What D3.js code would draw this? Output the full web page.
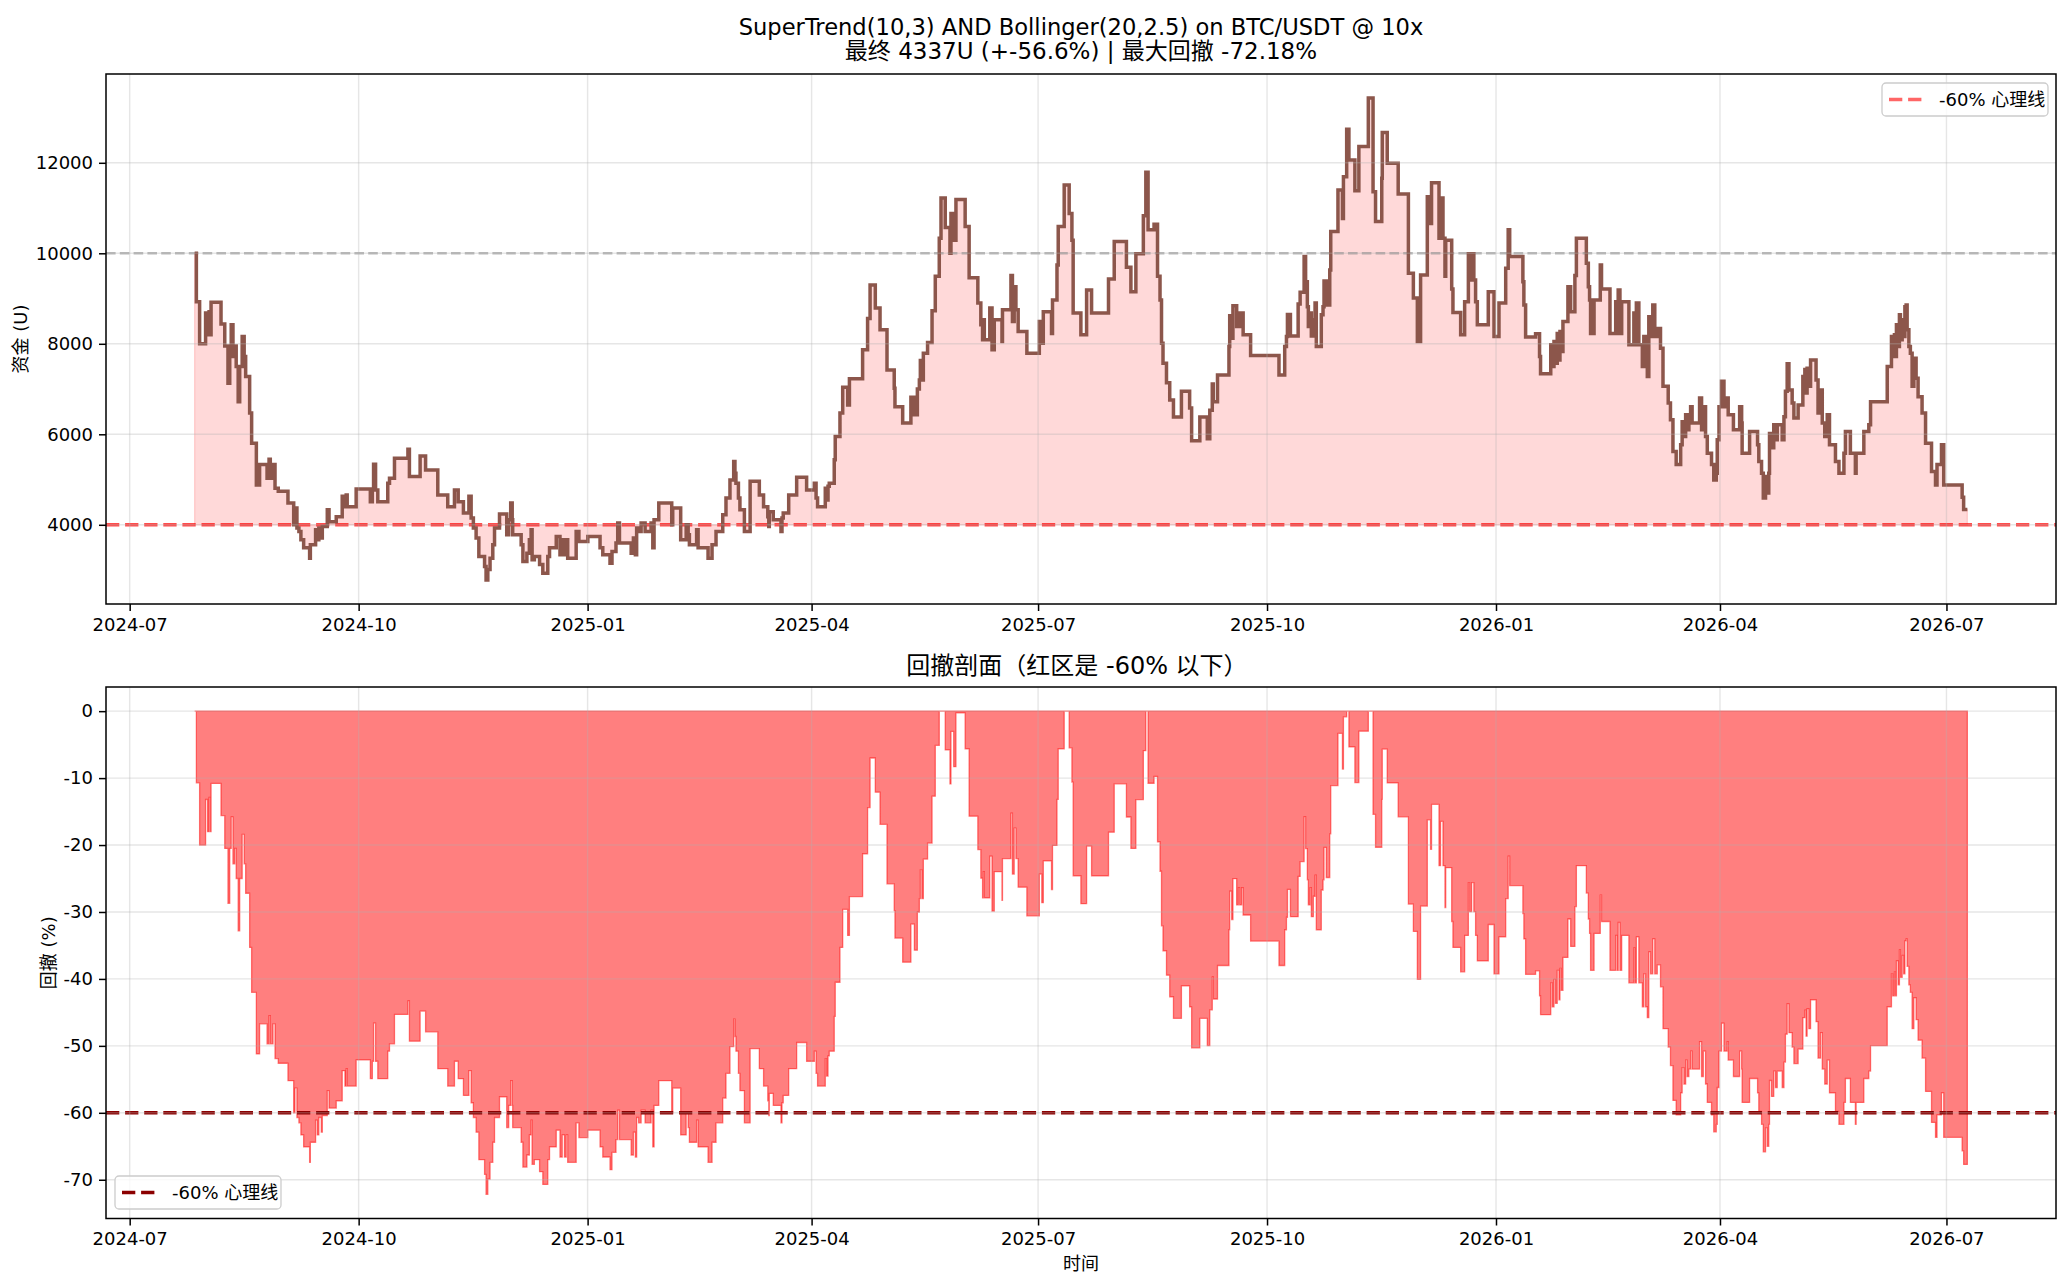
<!DOCTYPE html>
<html><head><meta charset="utf-8">
<script src="https://cdn.jsdelivr.net/npm/d3@7"></script>
<style>
html,body{margin:0;padding:0;background:#fff;}
svg text{font-family:"DejaVu Sans","Noto Sans CJK SC",sans-serif;fill:#000;}
</style></head><body>
<svg id="chart" width="2070" height="1287"></svg>
<script>
// ---------------- DATA ----------------
const startDate = "2024-07-01";           // day 0 of dayOffsets
const initialCapital = 10000;
const warnLevel = 4000;                    // -60% 心理线
const warnPct = -60;
const titleLines = ["SuperTrend(10,3) AND Bollinger(20,2.5) on BTC/USDT @ 10x",
                    "最终 4337U (+-56.6%) | 最大回撤 -72.18%"];
const ddTitle = "回撤剖面（红区是 -60% 以下）";
const legendLabel = "-60% 心理线";
const yLabelTop = "资金 (U)";
const yLabelBottom = "回撤 (%)";
const xLabel = "时间";
const equityTicks = [4000, 6000, 8000, 10000, 12000];
const ddTicks = [0, -10, -20, -30, -40, -50, -60, -70];

// days since startDate at which the equity steps to a new value
const dayOffsets = [
26.1,26.8,28.1,30.5,31.3,31.9,32.4,32.7,36.7,38.2,39.5,40.2,40.8,41.5,42.2,42.8,43.6,44.2,45.2,46.0,
46.6,48.2,49.0,50.9,52.2,55.2,56.0,56.5,57.6,58.4,59.7,63.6,65.9,66.4,67.2,68.0,68.8,69.9,72.3,72.6,
74.7,75.4,76.0,77.0,77.4,79.4,80.1,83.0,85.4,86.5,87.0,87.4,91.0,96.7,97.5,98.0,98.8,99.7,103.7,104.4,
106.4,111.8,112.4,116.7,118.9,123.8,127.8,130.5,132.0,134.1,136.3,137.2,138.1,139.2,140.3,142.6,143.2,143.9,144.8,145.9,
146.6,148.6,151.5,152.3,153.1,153.7,153.9,157.3,158.0,159.6,160.6,161.3,161.7,162.6,164.7,166.0,168.0,168.7,171.4,172.9,
173.8,174.7,175.4,176.0,179.4,180.5,184.1,189.0,190.1,193.0,193.8,195.4,196.1,196.8,201.5,202.4,203.2,203.7,
204.5,205.5,207.1,209.5,210.2,210.7,212.6,217.8,218.2,221.4,223.6,224.4,224.9,227.8,228.4,232.4,234.0,235.6,238.3,239.6,
241.2,242.7,243.2,243.6,244.6,245.2,247.0,249.3,253.0,254.7,256.4,256.8,257.0,258.6,261.7,262.1,262.6,264.8,268.0,272.0,
275.1,275.8,276.4,279.5,280.0,280.6,281.1,283.1,283.5,285.4,286.5,288.5,289.2,294.5,296.5,297.5,299.6,301.5,304.3,307.2,
307.5,310.6,313.9,315.3,316.5,317.3,317.7,318.3,318.9,320.6,322.4,323.7,325.3,326.0,327.7,329.6,330.0,331.1,332.0,335.7,
337.3,340.8,342.0,342.7,343.0,343.4,345.6,346.5,347.4,350.5,350.7,354.1,354.7,355.4,356.1,357.0,360.5,365.5,366.5,367.1,
370.4,370.8,372.6,373.1,375.5,377.5,378.6,379.1,382.2,384.5,
386.5,393.3,395.6,400.5,402.3,404.3,407.3,408.3,409.2,411.6,413.0,414.0,414.6,415.2,416.6,417.9,419.4,422.6,425.9,426.7,
430.0,433.0,434.0,435.0,435.4,437.1,441.7,442.0,442.8,443.3,444.8,445.5,446.0,446.8,447.4,450.4,461.8,464.1,464.8,465.2,
466.4,469.5,470.3,471.9,472.5,473.2,473.6,474.3,474.8,475.6,476.3,476.8,478.8,479.5,479.9,480.8,482.2,482.6,485.5,487.3,
487.7,489.0,489.9,492.3,493.9,497.7,499.6,500.6,503.1,503.3,505.3,509.7,513.8,515.8,517.4,518.7,521.4,522.7,523.1,526.1,
526.7,527.7,528.5,528.8,531.2,531.7,534.8,536.4,537.9,538.4,539.2,540.1,540.8,541.5,545.9,548.2,550.2,552.9,553.9,554.5,
559.8,560.2,560.9,564.9,
566.5,566.9,571.0,571.6,572.3,572.9,573.6,574.3,574.7,575.2,575.9,577.9,579.0,580.7,581.3,585.3,586.1,586.6,587.0,588.4,
590.9,591.4,594.8,597.1,597.7,598.1,598.8,599.5,602.4,604.4,604.8,605.4,606.4,607.8,608.4,609.1,609.8,610.4,611.1,612.0,
612.8,613.8,615.1,616.1,618.2,619.1,620.1,621.4,623.2,623.8,624.5,625.2,625.8,626.5,627.2,627.8,630.8,631.6,632.3,633.2,
633.9,635.6,636.5,637.5,637.9,638.6,639.6,640.6,641.9,642.3,644.4,646.9,647.7,647.9,650.9,654.1,654.6,655.7,656.4,657.3,
658.0,658.6,658.9,659.7,660.6,661.3,662.0,664.0,664.7,665.3,666.0,666.7,668.0,668.7,670.4,672.3,673.1,673.6,674.0,674.7,
675.4,677.6,678.4,679.4,680.1,681.1,682.1,683.0,685.4,686.8,688.8,689.4,691.4,693.4,693.7,696.8,698.8,699.5,706.2,707.9,
708.4,709.1,709.5,709.9,710.6,711.1,711.5,712.2,712.8,713.3,713.8,714.2,714.9,715.5,716.2,716.9,717.8,718.6,720.2,721.6,
724.0,725.6,726.2,728.0,728.9,736.3,736.9,738.4
];

// equity (U) after each step
const equity = [
10000,8930,8000,8680,8200,8710,8200,8920,8440,7950,7130,7950,8420,7720,7950,7500,6720,7500,8160,7720,
7280,6470,5800,4880,5330,5030,5450,5030,5330,4810,4740,4480,4000,4370,3930,3850,3670,3490,3260,3560,
3890,3670,3930,3710,3960,4330,4070,4180,4630,4400,4660,4400,4790,4510,4770,5340,4770,4510,4920,5030,
5470,5670,5070,5520,5210,4660,4400,4770,4510,4260,4630,4150,3930,3710,3300,3080,2782,3010,3260,3560,
3930,4240,3780,4110,4480,4110,3780,3560,3190,3370,3670,3890,3230,3300,3120,2930,3300,3490,3740,3340,
3670,3340,3670,3260,3850,3630,3740,3490,3340,3150,3410,3600,4040,3600,3370,3710,3340,3930,
3850,4040,3850,4040,3490,4110,4480,4000,4370,3670,4000,3780,3560,3890,3490,3260,3560,3850,4220,4590,
4990,5400,5140,4920,4590,4330,3850,4960,4660,4400,4180,3960,4290,4110,3850,4150,4260,4660,5050,4770,
4920,4590,4400,4810,4550,4850,4920,5440,5950,6470,7040,6650,7230,7870,8560,9300,8790,8310,7420,7020,
6610,6250,6820,6430,7000,7200,7630,7200,7790,8030,8730,9490,10330,11220,10570,10000,10880,10290,11190,10590,
9460,8900,8420,8090,8530,8090,8790,7870,8530,8050,8750,9510,8490,9260,8750,8270,7790,8490,8010,8710,
8230,8970,9740,10590,11510,10880,10290,8680,8200,9190,
8680,9430,10260,9690,9150,9990,10830,11790,10520,10640,9490,8970,8010,7570,7140,6760,6380,6950,6580,5860,
6380,5900,6530,7110,6720,7310,7940,8620,8120,8840,8380,8680,8380,8680,8200,7740,7310,7940,8160,8650,
8170,8880,9140,9930,9370,8820,8380,8680,8170,8530,8900,7940,8640,8820,9390,8860,9630,10480,11400,10770,
11690,12740,12060,11380,12360,13430,11360,10700,11660,12670,11990,11310,9560,9010,8050,9520,11250,10660,11560,10330,
11220,10330,9490,10290,9210,8690,8200,8930,9990,9410,9990,9410,8930,8420,9150,8160,8900,9670,10520,9930,
9370,8860,8150,8220,
7720,7340,7980,7500,8050,7570,8230,7640,8270,7830,8490,9260,8710,9510,10330,9780,9260,8970,8230,8970,
9740,9210,8230,8930,8230,9190,8230,8930,7980,8680,7980,8900,7980,7500,8160,7500,7280,8600,8160,8860,
8160,8340,7900,7060,6690,6320,5620,5330,5770,6280,5950,6430,6100,6250,6610,6250,6800,6100,6610,5950,
5580,5330,4990,5140,5880,6610,7170,6610,6800,6430,6100,6610,6250,5580,6060,5770,5400,5140,4590,5070,
4700,5140,6020,5700,6210,5880,6210,5880,6390,6950,7560,6980,6690,6360,6650,7280,7430,6910,7460,7060,
7640,7200,6470,6980,6250,5950,6430,5770,5400,5140,5580,6060,5580,5140,5580,6060,6210,6720,7500,8160,
7720,8200,7720,8420,7940,8640,8090,8530,8160,8820,8860,8310,7940,7790,7060,7680,7240,6830,6470,5800,
5180,4880,5330,5770,4880,4610,4337,4337
];

// ---------------- CHART ----------------
const svg = d3.select("#chart");
const L = 106, R = 2056;
const topBox = {top: 74, bottom: 604};
const botBox = {top: 687, bottom: 1218.5};
const TICK_FS = 18, LABEL_FS = 18, LEG_FS = 18;

const t0 = Date.parse(startDate + "T00:00:00Z");
const dates = dayOffsets.map(d => new Date(t0 + d * 864e5));
const eqData = dates.map((d, i) => ({date: d, value: equity[i]}));
let runPeak = -Infinity;
const ddData = eqData.map(p => { runPeak = Math.max(runPeak, p.value); return {date: p.date, value: (p.value / runPeak - 1) * 100}; });

const tMin = d3.min(dates), tMax = d3.max(dates), tPad = (tMax - tMin) * 0.05;
const x = d3.scaleUtc().domain([new Date(+tMin - tPad), new Date(+tMax + tPad)]).range([L, R]);
const eMin = d3.min(equity), eMax = d3.max(equity), ePad = (eMax - eMin) * 0.05;
const yTop = d3.scaleLinear().domain([eMin - ePad, eMax + ePad]).range([topBox.bottom, topBox.top]);
const dMin = d3.min(ddData, d => d.value), dMax = d3.max(ddData, d => d.value), dPad = (dMax - dMin) * 0.05;
const yBot = d3.scaleLinear().domain([dMin - dPad, dMax + dPad]).range([botBox.bottom, botBox.top]);
const xTicks = d3.utcMonth.every(3).range(x.domain()[0], x.domain()[1]);

const defs = svg.append("defs");
[["clipTop", topBox], ["clipBot", botBox]].forEach(([id, b]) => {
  defs.append("clipPath").attr("id", id).append("rect")
    .attr("x", L).attr("y", b.top).attr("width", R - L).attr("height", b.bottom - b.top);
});

function grid(g, yScale, yTicks, box) {
  const gg = g.append("g").attr("stroke", "#b0b0b0").attr("stroke-opacity", 0.32).attr("stroke-width", 1.4);
  xTicks.forEach(t => gg.append("line").attr("x1", x(t)).attr("x2", x(t)).attr("y1", box.top).attr("y2", box.bottom));
  yTicks.forEach(v => gg.append("line").attr("x1", L).attr("x2", R).attr("y1", yScale(v)).attr("y2", yScale(v)));
}
function axes(yScale, yTicks, box) {
  const ax = svg.append("g").attr("transform", `translate(0,${box.bottom})`)
    .call(d3.axisBottom(x).tickValues(xTicks).tickFormat(d3.utcFormat("%Y-%m")).tickSize(7).tickPadding(7).tickSizeOuter(0));
  const ay = svg.append("g").attr("transform", `translate(${L},0)`)
    .call(d3.axisLeft(yScale).tickValues(yTicks).tickFormat(d => String(d)).tickSize(7).tickPadding(6).tickSizeOuter(0));
  [ax, ay].forEach(a => {
    a.select(".domain").remove();
    a.selectAll(".tick line").attr("stroke", "#000").attr("stroke-width", 1.5);
    a.selectAll(".tick text").attr("font-size", TICK_FS).style("font-family", '"DejaVu Sans","Noto Sans CJK SC",sans-serif').attr("fill", "#000");
  });
  svg.append("rect").attr("x", L).attr("y", box.top).attr("width", R - L).attr("height", box.bottom - box.top)
    .attr("fill", "none").attr("stroke", "#000").attr("stroke-width", 1.5);
}
function legend(bx, by, color, opacity) {
  const g = svg.append("g");
  g.append("rect").attr("x", bx).attr("y", by).attr("width", 166).attr("height", 33).attr("rx", 4)
    .attr("fill", "#fff").attr("fill-opacity", 0.8).attr("stroke", "#cccccc").attr("stroke-width", 1.3);
  g.append("line").attr("x1", bx + 7).attr("x2", bx + 41).attr("y1", by + 16.5).attr("y2", by + 16.5)
    .attr("stroke", color).attr("stroke-opacity", opacity).attr("stroke-width", 3.6).attr("stroke-dasharray", "13.3,5.8");
  g.append("text").attr("x", bx + 57).attr("y", by + 16.5).attr("dy", "0.36em").attr("font-size", LEG_FS).text(legendLabel);
}

// ---- top panel ----
const gTop = svg.append("g");
const pTop = gTop.append("g").attr("clip-path", "url(#clipTop)");
pTop.append("path").datum(eqData)
  .attr("d", d3.area().curve(d3.curveStepAfter).x(d => x(d.date)).y0(yTop(warnLevel)).y1(d => yTop(d.value)))
  .attr("fill", "red").attr("fill-opacity", 0.15).attr("stroke", "red").attr("stroke-opacity", 0.15).attr("stroke-width", 1.3);
grid(gTop, yTop, equityTicks, topBox);
pTop.append("line").attr("x1", L).attr("x2", R).attr("y1", yTop(initialCapital)).attr("y2", yTop(initialCapital))
  .attr("stroke", "gray").attr("stroke-opacity", 0.55).attr("stroke-width", 2.6).attr("stroke-dasharray", "9.6,4.2");
pTop.append("line").attr("x1", L).attr("x2", R).attr("y1", yTop(warnLevel)).attr("y2", yTop(warnLevel))
  .attr("stroke", "red").attr("stroke-opacity", 0.7).attr("stroke-width", 3.6).attr("stroke-dasharray", "13.3,5.8");
pTop.append("path").datum(eqData)
  .attr("d", d3.line().curve(d3.curveStepAfter).x(d => x(d.date)).y(d => yTop(d.value)))
  .attr("fill", "none").attr("stroke", "#8c564b").attr("stroke-width", 3.5).attr("stroke-linejoin", "miter");
axes(yTop, equityTicks, topBox);
legend(1882, 83, "red", 0.6);

// ---- bottom panel ----
const gBot = svg.append("g");
const pBot = gBot.append("g").attr("clip-path", "url(#clipBot)");
pBot.append("path").datum(ddData)
  .attr("d", d3.area().curve(d3.curveStepAfter).x(d => x(d.date)).y0(yBot(0)).y1(d => yBot(d.value)))
  .attr("fill", "red").attr("fill-opacity", 0.5).attr("stroke", "red").attr("stroke-opacity", 0.5).attr("stroke-width", 1.3);
grid(gBot, yBot, ddTicks, botBox);
pBot.append("line").attr("x1", L).attr("x2", R).attr("y1", yBot(warnPct)).attr("y2", yBot(warnPct))
  .attr("stroke", "#8b0000").attr("stroke-width", 3.6).attr("stroke-dasharray", "13.3,5.8");
axes(yBot, ddTicks, botBox);
legend(115, 1176, "#8b0000", 1);

// ---- texts ----
const cx = (L + R) / 2;
svg.append("text").attr("x", cx).attr("y", 34.5).attr("text-anchor", "middle").attr("font-size", 22.6).text(titleLines[0]);
svg.append("text").attr("x", cx).attr("y", 59).attr("text-anchor", "middle").attr("font-size", 23).text(titleLines[1]);
svg.append("text").attr("x", cx - 4).attr("y", 674).attr("text-anchor", "middle").attr("font-size", 24).text(ddTitle);
svg.append("text").attr("x", cx).attr("y", 1270).attr("text-anchor", "middle").attr("font-size", LABEL_FS).text(xLabel);
svg.append("text").attr("transform", `translate(21,${(topBox.top + topBox.bottom) / 2}) rotate(-90)`)
  .attr("text-anchor", "middle").attr("dy", "0.35em").attr("font-size", LABEL_FS).text(yLabelTop);
svg.append("text").attr("transform", `translate(49,${(botBox.top + botBox.bottom) / 2}) rotate(-90)`)
  .attr("text-anchor", "middle").attr("dy", "0.35em").attr("font-size", LABEL_FS).text(yLabelBottom);
</script>
</body></html>
